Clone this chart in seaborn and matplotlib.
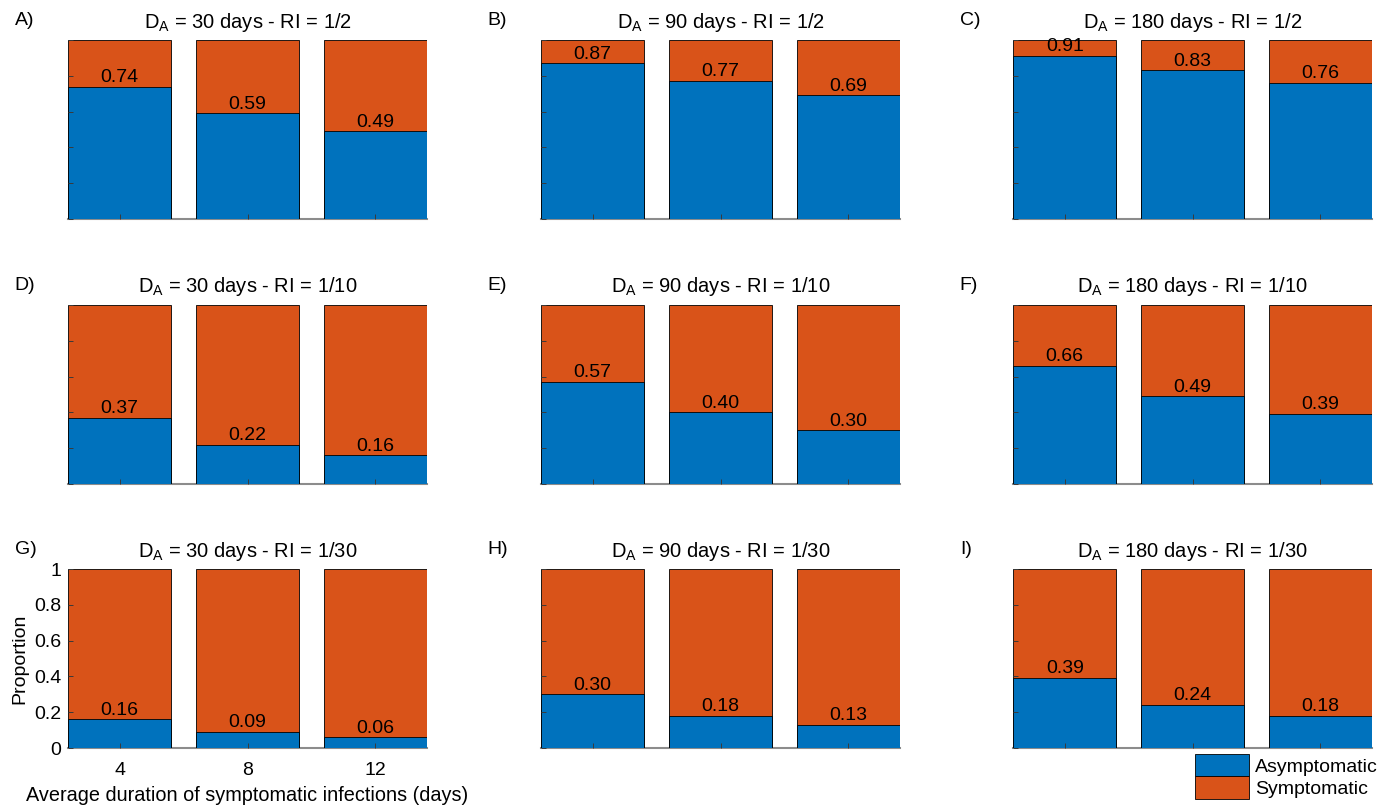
import pandas as pd
import seaborn as sns
import matplotlib.pyplot as plt
from matplotlib.patches import Patch

sns.set_style('white')
plt.rcParams['font.family'] = ['Liberation Sans', 'DejaVu Sans']
plt.rcParams['mathtext.default'] = 'regular'
plt.rcParams['text.color'] = 'black'
plt.rcParams['axes.labelcolor'] = 'black'
plt.rcParams['xtick.color'] = 'black'
plt.rcParams['ytick.color'] = 'black'

durations = ['4', '8', '12']
panel_letters = ['A)', 'B)', 'C)', 'D)', 'E)', 'F)', 'G)', 'H)', 'I)']
da_days = [30, 90, 180]
ri_labels = ['1/2', '1/10', '1/30']

# proportion asymptomatic, one list per panel (rows: RI, columns: D_A)
asym_A = [0.74, 0.59, 0.49]
asym_B = [0.87, 0.77, 0.69]
asym_C = [0.91, 0.83, 0.76]
asym_D = [0.37, 0.22, 0.16]
asym_E = [0.57, 0.40, 0.30]
asym_F = [0.66, 0.49, 0.39]
asym_G = [0.16, 0.09, 0.06]
asym_H = [0.30, 0.18, 0.13]
asym_I = [0.39, 0.24, 0.18]
asym_all = [asym_A, asym_B, asym_C, asym_D, asym_E, asym_F, asym_G, asym_H, asym_I]

blue = '#0072BD'
orange = '#D95319'
fs = 14

fig = plt.figure(figsize=(13.9, 8.05), dpi=100)
lefts = [68, 541, 1013]
tops = [40, 305, 569]
W, H = 359, 179

for i in range(9):
    r, c = divmod(i, 3)
    ax = fig.add_axes([lefts[c] / 1390, 1 - (tops[r] + H) / 805, W / 1390, H / 805])
    df = pd.DataFrame({'dur': durations, 'asym': asym_all[i], 'total': [1.0] * 3})
    sns.barplot(data=df, x='dur', y='total', order=durations, color=orange,
                saturation=1, width=0.81, edgecolor='black', linewidth=0.6, ax=ax)
    sns.barplot(data=df, x='dur', y='asym', order=durations, color=blue,
                saturation=1, width=0.81, edgecolor='black', linewidth=0.6, ax=ax)
    for j, v in enumerate(asym_all[i]):
        ax.annotate(f'{v:.2f}', (j, v), xytext=(0, 0.5), textcoords='offset points',
                    ha='center', va='bottom', fontsize=fs)
    ax.set_axisbelow(False)
    ax.set_xlim(-0.405, 2.405)
    ax.set_ylim(0, 1)
    ax.set_yticks([0, 0.2, 0.4, 0.6, 0.8, 1])
    for s in ['top', 'right', 'left']:
        ax.spines[s].set_visible(False)
    ax.spines['bottom'].set_color('#8c8c8c')
    ax.spines['bottom'].set_linewidth(1.5)
    ax.spines['bottom'].set_zorder(0.5)
    ax.tick_params(direction='in', length=3.5, width=0.7, color='#3a3a3a',
                   labelsize=fs, left=True, bottom=True, pad=10)
    ax.tick_params(axis='y', pad=5)
    ax.set_title(f'D$_A$ = {da_days[c]} days - RI = {ri_labels[r]}', fontsize=14.5, pad=9)
    ax.text(-0.148, 1.11, panel_letters[i], transform=ax.transAxes,
            fontsize=fs, ha='left', va='center')
    if i == 6:
        ax.set_yticklabels(['0', '0.2', '0.4', '0.6', '0.8', '1'])
        ax.set_ylabel('Proportion', fontsize=fs, labelpad=4)
        ax.set_xlabel('Average duration of symptomatic infections (days)', fontsize=14.3, labelpad=5)
    else:
        ax.set_yticklabels([])
        ax.set_xticklabels([])
        ax.set_xlabel('')
        ax.set_ylabel('')

handles = [Patch(facecolor=blue, edgecolor='black', linewidth=0.6, label='Asymptomatic'),
           Patch(facecolor=orange, edgecolor='black', linewidth=0.6, label='Symptomatic')]
fig.legend(handles=handles, loc='upper left', bbox_to_anchor=(1195 / 1390, 1 - 754 / 805),
           frameon=False, fontsize=fs, handlelength=2.8, handleheight=1.4,
           labelspacing=0.0, handletextpad=0.3, borderpad=0, borderaxespad=0)

fig.savefig('out.png', dpi=100)
